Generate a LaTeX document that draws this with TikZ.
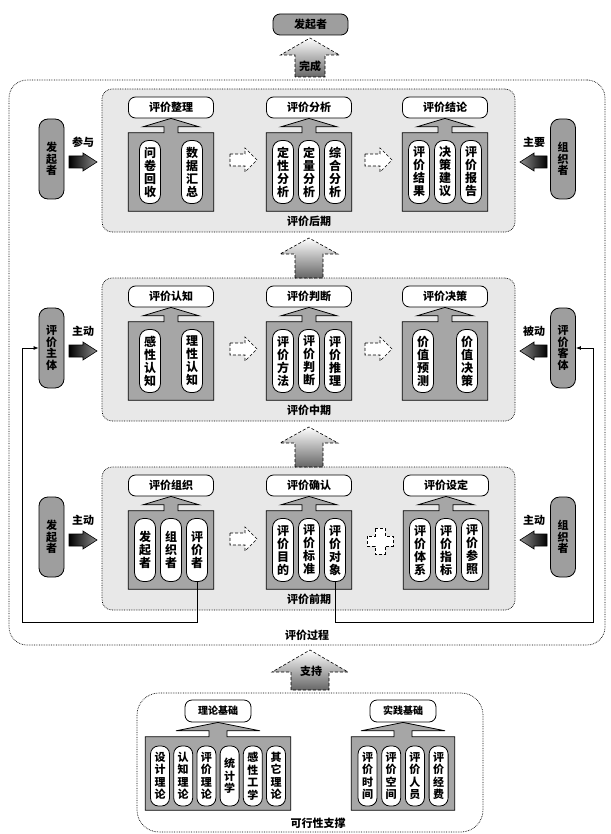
\documentclass[tikz,border=0pt]{standalone}
\usepackage{fontspec}
\newfontfamily\cjk{Noto Sans CJK SC}
\usetikzlibrary{calc,arrows.meta}
\definecolor{stagegray}{RGB}{232,232,232}
\definecolor{boxgray}{RGB}{166,166,166}
\definecolor{sidegray}{RGB}{158,158,158}
\def\tw{85pt}\def\hh{28}\def\sh{7}

% title pill, grey container and the arrow joining them
\newcommand{\grp}[6]{%
  \node[titlebox, minimum width=\tw] (#1t) at (#2,#3) {#6};
  \node[cont, #5] (#1) at (#2,#4) {};
  \draw[contline] (#1.north west) -- ($(#1.north)+(-\sh,0)$) -- ++(0,-6) -- ++({\sh-\hh},0)
    -- (#1t.south) -- ($(#1.north)+(\hh,-6)$) -- ++({\sh-\hh},0) -- ++(0,6)
    -- (#1.north east) -- (#1.south east) -- (#1.south west) -- cycle;
}
% row of vertical pills
\newcommand{\pills}[5]{%
  \foreach \s [count=\i] in {#5}
    \node[pill] (#1p\i) at ({#2+(\i-1)*#3},#4) {\s};
}
% block arrows: up (x, tip, head base, bottom, head half, shaft half) and sideways
\newcommand{\blkup}[7]{%
  \draw[#1] ({#2-#7},#5) -- ({#2-#7},#4) -- ({#2-#6},#4) -- (#2,#3) -- ({#2+#6},#4)
    -- ({#2+#7},#4) -- ({#2+#7},#5) -- cycle;
}
\newcommand{\blkh}[7]{%
  \draw[#1] (#2,{#5-#7}) -- (#4,{#5-#7}) -- (#4,{#5-#6}) -- (#3,#5) -- (#4,{#5+#6})
    -- (#4,{#5+#7}) -- (#2,{#5+#7}) -- cycle;
}

\begin{document}
\begin{tikzpicture}[x=1pt, y=-1pt,
  titlebox/.style={draw, fill=white, line width=0.8pt, rounded corners=7pt, minimum height=21pt, inner sep=0pt, font=\cjk\bfseries\fontsize{11}{12}\selectfont},
  pill/.style={draw, fill=white, line width=0.8pt, rounded corners=9pt, minimum width=21pt, minimum height=63pt, inner sep=0pt, align=center, font=\cjk\bfseries\fontsize{12}{13}\selectfont},
  cont/.style={minimum width=85pt, minimum height=78pt, inner sep=0pt},
  contline/.style={draw, fill=boxgray, line width=0.8pt},
  sidebox/.style={draw, fill=sidegray, line width=0.8pt, rounded corners=9pt, minimum width=25pt, minimum height=80pt, inner sep=0pt, align=center, font=\cjk\bfseries\fontsize{11}{11.5}\selectfont},
  stagebox/.style={draw, densely dotted, line width=0.7pt, fill=stagegray, rounded corners=10pt, minimum width=413pt, minimum height=143pt},
  outerbox/.style={draw, densely dotted, line width=0.7pt, rounded corners=18pt},
  lbl/.style={font=\cjk\bfseries\fontsize{11}{12}\selectfont, inner sep=1pt},
  hollow/.style={draw, densely dashed, fill=white, line width=0.6pt},
  bigup/.style={draw, densely dashed, line width=0.6pt, top color=white, bottom color=black!60},
  pushR/.style={draw, line width=0.6pt, left color=black, right color=black!45},
  pushL/.style={draw, line width=0.6pt, left color=black!45, right color=black},
  fb/.style={line width=0.8pt, -{Latex[length=5pt,width=4pt]}}]
\useasboundingbox (0,0) rectangle (610,834);

% finished -> initiator
\node[sidebox, minimum width=75pt, minimum height=21pt, rounded corners=7pt] (top) at (310.5,24.5) {发起者};
\blkup{bigup}{310}{38}{55}{77}{29.5}{15}
\node[lbl] (done) at (310,66) {完成};

% evaluation process
\node[outerbox, minimum width=596pt, minimum height=565pt] (proc) at (307,362.5) {};
\node[lbl] (proc-lbl) at (307,635) {评价过程};

\foreach \T/\nm/\lb in {89/late/评价后期, 278/mid/评价中期, 467/early/评价前期} {
  \node[stagebox] (\nm) at (308.5,\T+71.5) {};
  \node[lbl] (\nm-lbl) at (309,\T+132) {\lb};
}
\blkup{bigup}{309}{238}{254}{278}{29}{14}
\blkup{bigup}{309}{427}{443}{467}{29}{14}

% late stage
\grp{La}{171}{107.5}{172}{}{评价整理}
\pills{La}{150}{42}{172}{{问\\卷\\回\\收},{数\\据\\汇\\总}}
\grp{Lb}{309}{107.5}{172}{}{评价分析}
\pills{Lb}{283}{26}{172}{{定\\性\\分\\析},{定\\量\\分\\析},{综\\合\\分\\析}}
\grp{Lc}{445}{107.5}{172}{}{评价结论}
\pills{Lc}{419}{26}{172}{{评\\价\\结\\果},{决\\策\\建\\议},{评\\价\\报\\告}}

% middle stage
\grp{Ma}{171}{296.5}{361}{}{评价认知}
\pills{Ma}{150}{42}{361}{{感\\性\\认\\知},{理\\性\\认\\知}}
\grp{Mb}{309}{296.5}{361}{}{评价判断}
\pills{Mb}{283}{26}{361}{{评\\价\\方\\法},{评\\价\\判\\断},{评\\价\\推\\理}}
\grp{Mc}{445}{296.5}{361}{}{评价决策}
\pills{Mc}{423}{44}{361}{{价\\值\\预\\测},{价\\值\\决\\策}}

% early stage
\grp{Ea}{171}{485.5}{550}{}{评价组织}
\pills{Ea}{145}{26}{550}{{发\\起\\者},{组\\织\\者},{评\\价\\者}}
\grp{Eb}{309}{485.5}{550}{}{评价确认}
\pills{Eb}{283}{26}{550}{{评\\价\\目\\的},{评\\价\\标\\准},{评\\价\\对\\象}}
\grp{Ec}{446}{485.5}{550}{}{评价设定}
\pills{Ec}{420}{26}{550}{{评\\价\\体\\系},{评\\价\\指\\标},{评\\价\\参\\照}}

% steps between groups
\foreach \y in {160,349} {
  \blkh{hollow}{230}{257}{245}{\y}{12}{6}
  \blkh{hollow}{365}{392}{380}{\y}{12}{6}
}
\blkh{hollow}{230}{257}{245}{539}{12}{6}
\draw[hollow] (375,528) -- (385,528) -- (385,536) -- (393,536) -- (393,546) -- (385,546)
  -- (385,554) -- (375,554) -- (375,546) -- (367,546) -- (367,536) -- (375,536) -- cycle;

% actors
\node[sidebox] (lateL) at (51.5,159) {发\\起\\者};
\node[sidebox] (lateR) at (563,159) {组\\织\\者};
\node[sidebox] (subj) at (51.5,348) {评\\价\\主\\体};
\node[sidebox] (obj) at (563,348) {评\\价\\客\\体};
\node[sidebox] (earlyL) at (51.5,537) {发\\起\\者};
\node[sidebox] (earlyR) at (563,537) {组\\织\\者};
\foreach \y/\a/\b in {162/参与/主要, 351/主动/被动, 540/主动/主动} {
  \blkh{pushR}{69}{97}{83}{\y}{9}{6}
  \blkh{pushL}{547}{520}{534}{\y}{9}{6}
  \node[lbl] (pl\y) at (83,\y-20) {\a};
  \node[lbl] (pr\y) at (534,\y-20) {\b};
}

% feedback
\coordinate (lb) at (22,622);
\coordinate (rb) at (593,622);
\draw[fb] (Eap3.south) |- (lb) |- (subj.west);
\draw[fb] (Ebp3.south) |- (rb) |- (obj.east);

% feasibility support
\blkup{bigup}{310}{650}{672}{690}{38}{19}
\node[lbl] (sup) at (311,671) {支持};
\node[outerbox, rounded corners=22pt, minimum width=346pt, minimum height=139pt] (base) at (310,762.5) {};
\node[lbl] (base-lbl) at (318,823) {可行性支撑};
\begin{scope}[pill/.append style={minimum width=19pt, minimum height=60pt, rounded corners=8pt, font=\cjk\bfseries\fontsize{11}{12.5}\selectfont},
  titlebox/.append style={minimum height=22pt, font=\cjk\bfseries\fontsize{10}{12}\selectfont}]
\def\tw{66pt}\def\hh{42}\def\sh{9}
\grp{Ta}{218}{711}{773.5}{minimum width=145pt, minimum height=73pt}{理论基础}
\pills{Ta}{160}{23.2}{776}{{设\\计\\理\\论},{认\\知\\理\\论},{评\\价\\理\\论},{统\\计\\学},{感\\性\\工\\学},{其\\它\\理\\论}}
\grp{Tb}{403}{711}{773.5}{minimum width=103pt, minimum height=73pt}{实践基础}
\pills{Tb}{367.5}{23.7}{776}{{评\\价\\时\\间},{评\\价\\空\\间},{评\\价\\人\\员},{评\\价\\经\\费}}
\end{scope}
\end{tikzpicture}
\end{document}
